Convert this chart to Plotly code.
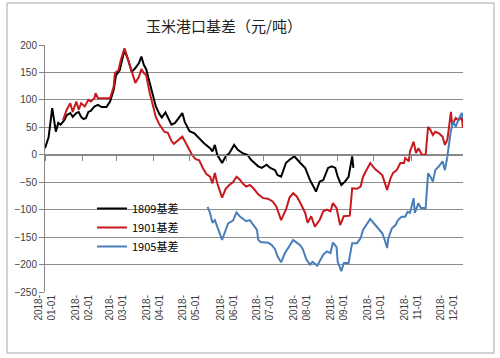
import pandas as pd
import plotly.graph_objects as go

# days since 2018-01-01 and basis values (元/吨)
days_1809 = [0,3,6,9,11,13,16,18,21,23,26,28,30,32,34,36,38,41,44,47,51,54,57,59,62,65,66,69,72,75,
             78,80,82,84,86,89,92,95,97,100,103,105,108,111,114,116,120,124,128,132,137,139,141,143,147,150,153,157,160,164,
             168,171,177,180,184,187,191,193,196,200,203,207,212,216,220,222,225,228,231,235,238,241,243,246,249,252,255,256]
vals_1809 = [12,32,85,42,58,55,63,72,76,69,76,78,69,65,67,78,80,88,91,87,87,97,118,145,154,179,191,173,151,158,
             167,179,164,156,140,114,88,74,68,77,65,55,58,66,76,60,43,39,30,21,12,6,18,0,-15,-3,3,18,9,3,
             0,-9,-21,-24,-18,-24,-28,-37,-40,-15,-9,-3,-15,-24,-46,-55,-67,-49,-46,-24,-21,-24,-40,-55,-49,-40,-3,-24]

days_1901 = [15,18,21,23,26,28,30,33,36,38,41,42,44,50,54,57,58,61,63,66,69,72,75,78,80,82,84,87,89,92,
             95,99,102,105,107,110,114,117,120,122,125,128,131,134,137,139,141,143,147,150,153,156,159,162,164,167,170,173,177,181,
             185,189,192,196,200,203,206,209,212,216,218,221,224,228,231,234,237,239,242,245,248,253,255,259,262,264,270,274,280,282,
             284,287,289,292,295,298,299,302,303,306,308,310,313,316,318,320,322,324,327,330,332,334,337,338,341,343,346,347]
vals_1901 = [63,82,94,78,97,82,94,88,100,97,103,112,103,103,103,124,149,154,173,194,173,154,131,142,156,149,145,112,96,69,
             55,42,40,25,20,26,33,21,8,0,-8,-10,-24,-35,-40,-52,-33,-52,-78,-62,-55,-50,-40,-46,-52,-58,-55,-61,-72,-79,
             -80,-85,-94,-119,-100,-78,-70,-76,-88,-106,-124,-112,-131,-119,-103,-100,-103,-88,-97,-128,-112,-111,-61,-62,-58,-40,-15,-26,-37,-52,
             -64,-42,-33,-28,-15,-15,-6,-12,6,24,3,12,0,0,51,45,36,42,39,33,18,27,78,54,67,63,67,49]

days_1905 = [135,137,139,141,143,147,150,152,156,159,162,164,167,170,172,176,177,179,182,185,
             188,191,193,196,199,203,206,209,212,214,217,220,222,226,228,231,234,237,239,242,
             243,246,248,252,255,259,262,264,270,274,280,282,284,285,288,291,293,296,299,301,
             303,306,307,310,312,316,318,320,322,324,327,330,332,334,337,339,341,343,346,347]
vals_1905 = [-95,-106,-124,-119,-131,-155,-137,-125,-120,-105,-113,-116,-121,-119,-125,-137,-155,-159,-160,-160,
             -164,-172,-185,-196,-180,-166,-155,-160,-165,-172,-191,-200,-195,-202,-194,-182,-176,-179,-160,-168,
             -195,-212,-197,-197,-161,-161,-152,-137,-117,-128,-143,-155,-170,-152,-134,-128,-119,-113,-113,-104,
             -106,-79,-106,-88,-97,-97,-34,-40,-49,-28,-21,-12,-28,-3,45,60,51,63,76,67]

series_names = ["1809基差", "1901基差", "1905基差"]
series_colors = ["#000000", "#C8191E", "#4A7EBB"]
tick_months = ["01", "02", "03", "04", "05", "06", "07", "08", "09", "10", "11", "12"]
title_text = "玉米港口基差（元/吨）"

base = pd.Timestamp("2018-01-01")
def to_dates(d):
    return base + pd.to_timedelta(d, unit="D")

tickvals = [f"2018-{m}-01" for m in tick_months]
ticktext = [f"2018-<br>{m}-01" for m in tick_months]
xr = ["2018-01-01", "2018-12-14"]

fig = go.Figure()
for d, v, n, c in zip([days_1809, days_1901, days_1905], [vals_1809, vals_1901, vals_1905], series_names, series_colors):
    fig.add_trace(go.Scatter(x=to_dates(d), y=v, name=n, mode="lines",
                             line=dict(color=c, width=2)))

W, H = 500, 358
ml, mr, mt, mb = 45, 37, 45, 66
pw, ph = W - ml - mr, H - mt - mb
ymin, ymax = -250, 200

fig.update_layout(
    width=W, height=H,
    margin=dict(l=ml, r=mr, t=mt, b=mb),
    paper_bgcolor="white", plot_bgcolor="white",
    title=dict(text=title_text, x=(224 - ml) / pw, xref="paper", xanchor="center",
               y=1 - 27 / H, yanchor="middle",
               font=dict(family="Noto Sans CJK SC", size=15, color="#222222")),
    xaxis=dict(type="date", range=xr, tickvals=tickvals, ticktext=ticktext,
               tickangle=-90, showgrid=False, showline=False, ticks="",
               zeroline=False,
               tickfont=dict(family="Liberation Sans", size=10, color="#404040")),
    xaxis2=dict(type="date", range=xr, overlaying="x", anchor="free",
                position=(0 - ymin) / (ymax - ymin), side="bottom",
                tickvals=tickvals, showticklabels=False, showgrid=False,
                showline=True, linecolor="#868686", linewidth=1,
                ticks="outside", ticklen=5, tickcolor="#868686", zeroline=False),
    yaxis=dict(range=[ymin, ymax], dtick=50, tick0=0, showgrid=True, gridcolor="#8C8C8C",
               gridwidth=1, zeroline=False, showline=True, linecolor="#868686",
               ticks="outside", ticklen=5, tickcolor="#868686",
               tickfont=dict(family="Liberation Sans", size=10, color="#404040")),
    legend=dict(x=(92 - ml) / pw, xanchor="left", y=1 - (194 - mt) / ph, yanchor="top",
                bgcolor="rgba(0,0,0,0)", font=dict(family="Noto Sans CJK SC", size=11, color="#000000"),
                tracegroupgap=0),
    showlegend=True,
)

# dummy invisible trace so xaxis2 is drawn
fig.add_trace(go.Scatter(x=[xr[0]], y=[None], xaxis="x2", showlegend=False, hoverinfo="skip"))

# chart border
fig.add_shape(type="rect", xref="paper", yref="paper",
              x0=(7 - ml) / pw, x1=(494 - ml) / pw,
              y0=1 - (353 - mt) / ph, y1=1 - (3 - mt) / ph,
              line=dict(color="#A6A6A6", width=1), fillcolor="rgba(0,0,0,0)", layer="below")

fig.write_html("out.html", post_script="document.body.style.margin='0';",
               config={"displayModeBar": False})
